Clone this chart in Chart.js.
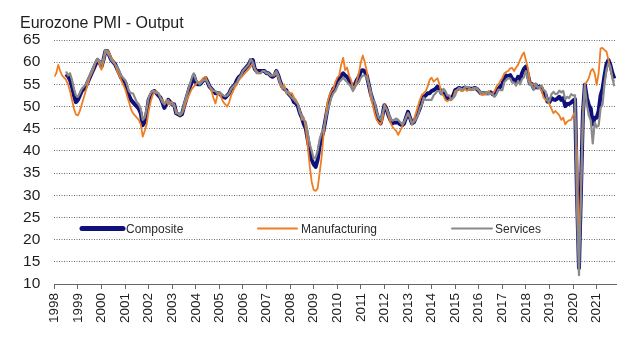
<!DOCTYPE html>
<html>
<head>
<meta charset="utf-8">
<script src="https://cdn.jsdelivr.net/npm/chart.js@4.4.0/dist/chart.umd.min.js"></script>
<style>
  html, body { margin: 0; padding: 0; background: #fff; }
  #wrap { width: 625px; height: 341px; }
</style>
</head>
<body>
<div id="wrap"><canvas id="pmiChart" width="625" height="341"></canvas></div>
<script>
// Monthly output indices, Jan 1998 - Oct 2021 (null = series not yet published)
const startYear = 1998;
const yearTicks = [1998, 1999, 2000, 2001, 2002, 2003, 2004, 2005, 2006, 2007, 2008, 2009,
  2010, 2011, 2012, 2013, 2014, 2015, 2016, 2017, 2018, 2019, 2020, 2021];
const yTicks = [10, 15, 20, 25, 30, 35, 40, 45, 50, 55, 60, 65];

const composite = [
  null, null, null, null, null, null, 57.3, 56.8, 56, 54.5, 52.5, 51,
  51.5, 52.5, 53.5, 54, 54.5, 55.5, 56.5, 57.5, 58.5, 59.5, 60.5, 60,
  59, 60.5, 62.5, 62.5, 61.5, 60.5, 60, 59.5, 58.5, 57.5, 56.5, 56,
  55.5, 54, 52.5, 51.5, 51, 50.5, 50, 49.5, 48.5, 45.8, 46.5, 48.5,
  51.5, 52.5, 53.3, 53.5, 53, 52.5, 52, 51, 49.7, 50.5, 51.5, 51,
  50.5, 50.5, 48.5, 48.3, 48, 48.3, 50, 51.5, 53, 54.5, 55.5, 57,
  55.5, 55, 55, 55.5, 56, 56.4, 55.5, 54.5, 54, 53.5, 53, 53,
  53, 52.5, 52.2, 52, 52.5, 53, 54, 54.5, 55, 56, 56.7, 57,
  58, 58.5, 59, 59.5, 60.5, 60.5, 58.5, 58, 58, 58, 58, 58,
  57.5, 57.5, 57, 56.7, 57, 58, 57, 55.5, 54.5, 54, 53.7, 53,
  52.5, 52, 51, 50.7, 50, 48.5, 47.5, 46, 45, 42.5, 40, 38,
  37, 36.4, 38, 41, 43, 44.5, 47, 49.5, 51.5, 53, 54, 54.5,
  55.5, 56.4, 57, 57.5, 57, 56.7, 56, 55, 54.1, 55, 56, 56.7,
  58, 58.2, 57.9, 57, 55, 53, 51.5, 50.3, 48.5, 47, 46.2, 48,
  50.3, 49.5, 48.1, 47, 46.2, 46.4, 46.4, 46.4, 46, 45.8, 46.2, 47.5,
  48.8, 47.5, 46.2, 46.5, 47.5, 48.5, 49.6, 51, 52.2, 52.5, 53, 53,
  53.5, 53.7, 54, 54.5, 54, 53, 53, 52.5, 51.9, 51.9, 51.9, 52.5,
  53.7, 53.9, 54.2, 54, 54.1, 54.3, 54, 54.1, 54, 54, 54.2, 54,
  53.5, 53, 53, 53, 53, 53, 53.2, 52.8, 52.6, 53.5, 54, 54.5,
  55, 56.5, 57, 56.8, 57.1, 56.3, 56, 55.7, 56.7, 56, 57.5, 58.5,
  59, 57.1, 55.2, 55.1, 54.1, 54.9, 54.3, 54.5, 54.1, 53.1, 52.7, 51.1,
  51, 51.9, 51.6, 51.5, 51.8, 52.2, 51.5, 51.9, 50.1, 50.6, 50.6, 50.9,
  51.3, 51.6, 30, 13.6, 31, 48.5, 54.9, 52, 50.3, 49.5, 46, 47.5,
  47.5, 49, 52.5, 54, 57, 59.5, 60.5, 59.3, 57.5, 56.3
];

const manufacturing = [
  56.7, 57.5, 59.4, 58, 57, 56.5, 56, 55, 53.5, 51.5, 49.5, 48.2,
  48, 49, 50.5, 52, 53.5, 55, 56.5, 57.5, 58.5, 60, 60.6, 59.5,
  58.3, 60, 62, 62.7, 62, 61, 60.5, 59.5, 58, 57, 56, 55,
  54, 52.5, 51, 49.5, 48.5, 48, 47.5, 47, 46, 43.2, 44.5, 46,
  49, 51, 52.5, 53.3, 53.5, 53, 52, 51.5, 50.5, 51.5, 50.5, 51,
  51, 50, 49, 48.3, 48, 48.5, 49.5, 51, 52, 53, 54, 54.5,
  55, 55.5, 55.5, 56, 56.5, 56.7, 55.5, 54.5, 53.5, 52, 50.7, 52.5,
  53, 52, 51, 50.5, 50, 51, 52.5, 53.5, 54.5, 55, 56, 56.5,
  57, 57.5, 58, 58.5, 59, 59.8, 58.5, 58, 57.5, 57.5, 58, 58,
  57.5, 57.5, 57, 57, 57.5, 57.5, 56.5, 55, 54, 55, 53, 53.5,
  53, 53, 52, 51.5, 50.5, 49, 47, 47.5, 45, 41, 36.5, 33,
  31.2, 31, 31.5, 35, 38.5, 43.5, 47.5, 51, 52.5, 53.5, 54, 55.5,
  56.5, 57, 59.5, 61, 58.2, 58.8, 57, 56, 54.3, 54.5, 56, 57.5,
  60, 61.5, 60, 58, 55, 52, 50.5, 48.5, 47, 46.5, 46, 47,
  50.5, 49.5, 48, 46.5, 45.5, 45, 44.5, 43.6, 44.5, 45.5, 46.5, 47.5,
  48.5, 47.5, 46, 47, 48.5, 50, 51.5, 52.6, 53, 53.5, 54.5, 56,
  56.5, 55.6, 56, 56.4, 55, 53, 52.5, 51.5, 51.2, 51.5, 51.4, 52,
  53.5, 53.7, 54, 53.5, 53.5, 54, 53.5, 54, 53.8, 53.7, 54, 54,
  53.5, 52.8, 52.6, 52.8, 52.8, 53.5, 53, 52.8, 53.5, 54.5, 55, 55.8,
  56.4, 57.5, 57.8, 58, 58.6, 58.7, 58, 58.8, 59.4, 60.5, 61.5, 62.2,
  60.5, 58.6, 55.6, 55, 55, 54.8, 54.5, 54.2, 53.5, 52, 51.5, 51.5,
  50.5, 49.5, 48.5, 49, 48.5, 48, 47, 47.5, 46, 46.6, 46.9, 47,
  48, 48.7, 39.5, 18.1, 30, 47.5, 55, 55.6, 56.4, 58, 58.5, 57.5,
  54.9, 57.5, 63.1, 63.2, 62.7, 62.4, 60.5, 58.5, 56.4, 55.6
];

const services = [
  null, null, null, null, null, null, 57.9, 57, 57.5, 56, 54, 52.5,
  52.2, 53, 54, 54.5, 55, 56, 57, 58, 59, 60, 60.8, 60.3,
  59.5, 60.8, 62.8, 62, 61.5, 60.5, 60, 59.5, 59, 58, 57, 56.5,
  56, 55, 53.5, 53, 53, 52, 51, 50.5, 49.5, 47, 47.5, 49.5,
  52, 53, 53.5, 53.5, 53, 53, 52, 51, 50.5, 51, 51.5, 50.5,
  50.5, 50.5, 48.5, 48.5, 48.2, 48.5, 50.5, 52, 53.5, 55, 56.5, 57.5,
  56, 55.5, 55, 55.5, 56, 56, 55.5, 54.5, 54, 53.5, 53.5, 53,
  53.2, 52.8, 52.5, 52.3, 52.5, 53, 54, 54.5, 55, 55.5, 56.5, 57,
  58, 58.5, 59, 59.5, 60.7, 60, 58.5, 57.5, 57.5, 57.5, 58, 58,
  57.5, 57.5, 57, 57, 57, 58, 57, 55.5, 54.5, 54, 53.5, 53,
  52.5, 52, 51.5, 51, 50.5, 48.5, 48, 47, 46.5, 44, 41.5, 40,
  38.3, 38.5, 40, 42.5, 44, 45, 47, 49, 50.5, 52, 53, 53.5,
  54.5, 55.5, 56, 56.5, 56, 55.5, 55, 54.5, 53.5, 54.5, 55, 55.5,
  56.5, 57, 57, 56.5, 55, 53.5, 51.5, 51, 49, 47.5, 47, 48.5,
  50, 49.5, 48.5, 47.5, 46.8, 47, 47.3, 47, 46.5, 46, 46.5, 47.5,
  48.5, 47.5, 46.2, 46.5, 47.2, 48, 49.5, 50.5, 52, 51.5, 51.5, 51.5,
  51.5, 52.5, 53, 53.5, 53.5, 52.8, 54, 53.5, 52.5, 52.5, 51.5, 52,
  52.5, 53.7, 54.2, 54, 53.8, 54.4, 54.4, 54.4, 53.7, 54.1, 54.2, 54.2,
  53.6, 53.3, 53.1, 53.1, 53.3, 52.8, 52.9, 52.8, 52.2, 52.8, 53.8, 53.7,
  53.7, 55.5, 56, 56.4, 56.3, 55.4, 55.4, 54.7, 55.8, 55, 56.2, 56.6,
  58, 56.2, 54.9, 54.7, 53.8, 55.2, 54.2, 54.4, 54.7, 53.7, 53.4, 51.2,
  51.2, 52.8, 53.3, 52.8, 52.9, 53.6, 53.2, 53.5, 51.6, 52.2, 51.9, 52.8,
  52.5, 52.5, 26.5, 12, 30, 48.3, 54.7, 50.5, 48, 46.9, 41.7, 46.4,
  45.4, 45.7, 49.6, 50.5, 55.2, 58.3, 59.8, 59, 56.4, 54.6
];

// month index -> decimal year on the x axis
function toPoints(values) {
  return values.map((v, i) => ({ x: startYear + i / 12, y: v }));
}

const textColor = '#1e1e1e';
const fontFamily = '"Liberation Sans", Arial, sans-serif';

// title and in-plot legend, drawn like the original
const decorations = {
  id: 'decorations',
  afterDraw(chart) {
    const ctx = chart.ctx;
    ctx.save();
    ctx.fillStyle = textColor;
    ctx.font = '16px ' + fontFamily;
    ctx.textBaseline = 'alphabetic';
    ctx.fillText('Eurozone PMI - Output', 20, 28);

    const ly = chart.scales.y.getPixelForValue(22.5);
    const items = [
      { ds: 0, x1: 82, x2: 123, tx: 126 },
      { ds: 1, x1: 258, x2: 297, tx: 301 },
      { ds: 2, x1: 452, x2: 492, tx: 495 }
    ];
    ctx.font = '12px ' + fontFamily;
    ctx.textBaseline = 'middle';
    items.forEach(it => {
      const d = chart.data.datasets[it.ds];
      ctx.strokeStyle = d.borderColor;
      ctx.lineWidth = it.ds === 0 ? 5 : 2;
      ctx.lineCap = 'round';
      ctx.beginPath();
      ctx.moveTo(it.x1, ly);
      ctx.lineTo(it.x2, ly);
      ctx.stroke();
      ctx.fillStyle = '#2a2a2a';
      ctx.fillText(d.label, it.tx, ly + 1);
    });
    ctx.restore();
  }
};

new Chart(document.getElementById('pmiChart'), {
  type: 'line',
  data: {
    datasets: [
      { label: 'Composite', data: toPoints(composite), borderColor: '#10107c', borderWidth: 4, order: 3 },
      { label: 'Manufacturing', data: toPoints(manufacturing), borderColor: '#ef7d22', borderWidth: 1.8, order: 2 },
      { label: 'Services', data: toPoints(services), borderColor: '#8a8a8a', borderWidth: 2.2, order: 1 }
    ]
  },
  options: {
    responsive: false,
    animation: false,
    elements: { point: { radius: 0 }, line: { tension: 0, borderJoinStyle: 'round' } },
    layout: { padding: { left: 20, right: 9, top: 40, bottom: 0 } },
    plugins: { legend: { display: false }, title: { display: false }, tooltip: { enabled: false } },
    scales: {
      x: {
        type: 'linear',
        min: 1998,
        max: 2021.82,
        afterBuildTicks: s => { s.ticks = yearTicks.map(v => ({ value: v })); },
        afterFit: s => { s.height = 57; },
        grid: { drawOnChartArea: false, drawTicks: true, tickLength: 5, color: '#666' },
        border: { display: true, color: '#666', width: 1 },
        ticks: {
          minRotation: 90, maxRotation: 90, autoSkip: false, padding: 4,
          color: textColor, font: { family: fontFamily, size: 13.5 },
          callback: v => String(v)
        }
      },
      y: {
        min: 10,
        max: 65,
        afterBuildTicks: s => { s.ticks = yTicks.map(v => ({ value: v })); },
        afterFit: s => { s.width = 34.3; },
        grid: { drawTicks: false, color: c => (c.tick && c.tick.value === 10) ? 'rgba(0,0,0,0)' : '#6e6e6e', lineWidth: 1 },
        border: { display: false, dash: [1, 1.5] },
        ticks: { padding: 14, color: textColor, font: { family: fontFamily, size: 15.5 } }
      }
    }
  },
  plugins: [decorations]
});
</script>
</body>
</html>
